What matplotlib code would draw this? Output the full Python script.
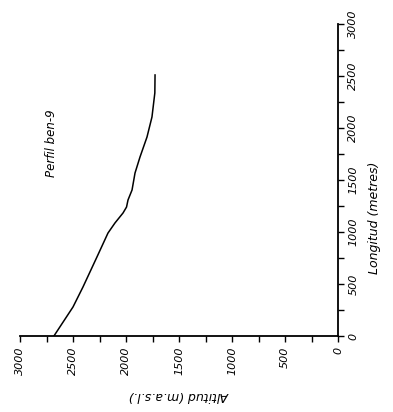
import numpy as np
from matplotlib import pyplot as plt
from matplotlib.ticker import MultipleLocator

plt.rcParams['font.family'] = ['Liberation Sans Narrow', 'DejaVu Sans']

# perfil longitudinal: longitud (m) i altitud (m s.n.m.)
longitud = [0, 279, 471, 760, 990, 1087, 1183, 1240, 1308, 1404, 1567,
            1721, 1913, 2106, 2337, 2510]
altitud = [2680, 2500, 2406, 2274, 2170, 2104, 2028, 1995, 1981, 1943, 1915,
           1868, 1802, 1755, 1728, 1726]
ticks = [0, 500, 1000, 1500, 2000, 2500, 3000]

fig = plt.figure(figsize=(3.93, 4.12), dpi=100)
ax = fig.add_axes([20/393, 76/412, 318/393, 312/412])

# la figura esta girada 90 graus: altitud en horitzontal, longitud en vertical
ax.plot(altitud, longitud, color='black', lw=1.1)
ax.set_xlim(3000, 0)
ax.set_ylim(0, 3000)

ax.spines['top'].set_visible(False)
ax.spines['left'].set_visible(False)
ax.spines['bottom'].set_linewidth(1.3)
ax.spines['right'].set_linewidth(1.3)
ax.yaxis.tick_right()
ax.yaxis.set_label_position('right')

ax.set_xticks(ticks)
ax.set_yticks(ticks)
ax.xaxis.set_minor_locator(MultipleLocator(250))
ax.yaxis.set_minor_locator(MultipleLocator(250))
ax.tick_params(which='both', direction='out', length=4, width=1)
ax.set_xticklabels([str(t) for t in ticks], rotation=90, fontsize=8, style='italic',
                   va='top')
ax.set_yticklabels([str(t) for t in ticks], rotation=90, fontsize=8, style='italic',
                   ha='left', va='center')

ax.set_xlabel('Altitud (m.a.s.l.)', rotation=180, fontsize=9, style='italic')
ax.xaxis.set_label_coords(0.5, -0.17)
ax.set_ylabel('Longitud (metres)', rotation=90, fontsize=9, style='italic')
ax.yaxis.set_label_coords(1.095, 0.38)

ax.text(2700, 1850, 'Perfil ben-9', rotation=90, fontsize=8.5, style='italic',
        ha='center', va='center')

fig.savefig('out.png', dpi=100)
